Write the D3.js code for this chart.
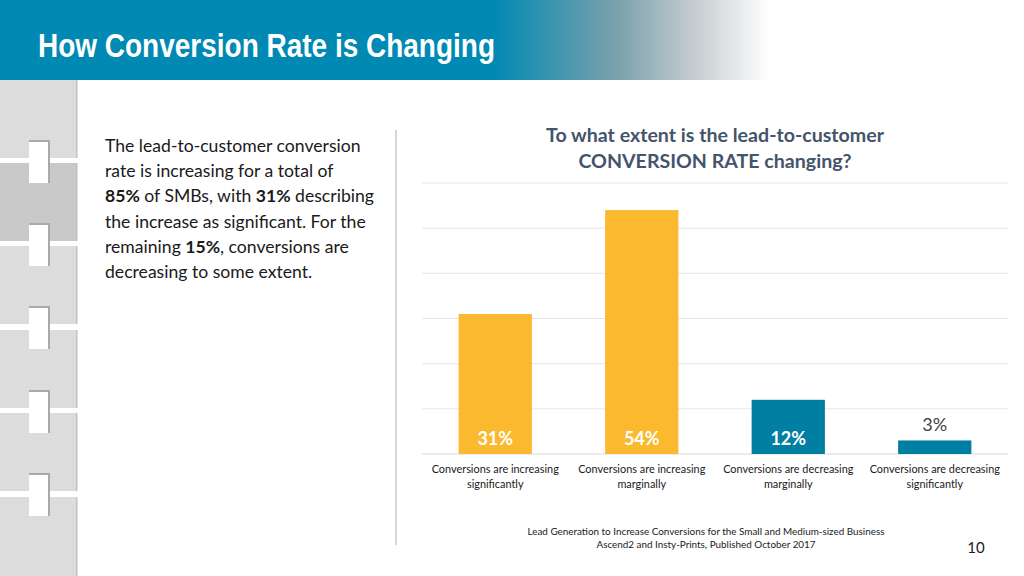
<!DOCTYPE html>
<html><head><meta charset="utf-8">
<script src="https://cdn.jsdelivr.net/npm/d3@7"></script>
<style>body{margin:0;background:#fff}svg{display:block}</style>
</head><body>
<script>
const categories = [
  ["Conversions are increasing","significantly"],
  ["Conversions are increasing","marginally"],
  ["Conversions are decreasing","marginally"],
  ["Conversions are decreasing","significantly"]
];
const values = [31, 54, 12, 3];
const valueLabels = ["31%","54%","12%","3%"];
const groups = ["inc","inc","dec","dec"];
const yTicks = [0,10,20,30,40,50,60];

const W=1024,H=576;
const svg=d3.select("body").append("svg").attr("width",W).attr("height",H);
const defs=svg.append("defs");
const grad=defs.append("linearGradient").attr("id","hdr").attr("x1","0").attr("x2","1");
grad.append("stop").attr("offset","0").attr("stop-color","#0089b3");
grad.append("stop").attr("offset","0.64").attr("stop-color","#0089b3");
grad.append("stop").attr("offset","0.80").attr("stop-color","#7aa0ab");
grad.append("stop").attr("offset","0.9").attr("stop-color","#c4cccf");
grad.append("stop").attr("offset","1").attr("stop-color","#ffffff");
svg.append("rect").attr("x",0).attr("y",0).attr("width",770).attr("height",80).attr("fill","url(#hdr)");
svg.append("text").attr("x",38).attr("y",57).attr("fill","#fff")
  .attr("font-family","'Liberation Sans Narrow','Arial Narrow','Liberation Sans',Arial,sans-serif")
  .attr("font-weight","bold").attr("font-size",33)
  .attr("textLength",457).attr("lengthAdjust","spacingAndGlyphs")
  .text("How Conversion Rate is Changing");

// left decorative strip
const strip=svg.append("g");
const sqTops=[80,163,246,330,413,497];
sqTops.forEach((t,i)=>{
  strip.append("rect").attr("x",0).attr("y",t).attr("width",77).attr("height",(i<5?78:80))
    .attr("fill",i===1?"#c9c9c9":"#dcdcdc");
  strip.append("rect").attr("x",76).attr("y",t).attr("width",1.5).attr("height",(i<5?78:80)).attr("fill","#c2c2c2");
});
sqTops.slice(0,5).forEach(t=>{
  const ny=t+60;
  strip.append("rect").attr("x",29).attr("y",ny).attr("width",21).attr("height",43).attr("fill","#a9a9a9");
  strip.append("rect").attr("x",29).attr("y",ny+2).attr("width",19).attr("height",41).attr("fill","#ffffff");
});

// body text
const body=[
  [["The lead-to-customer conversion",false]],
  [["rate is increasing for a total of",false]],
  [["85%",true],[" of SMBs, with ",false],["31%",true],[" describing",false]],
  [["the increase as significant. For the",false]],
  [["remaining ",false],["15%",true],[", conversions are",false]],
  [["decreasing to some extent.",false]]
];
body.forEach((ln,i)=>{
  const t=svg.append("text").attr("x",105).attr("y",152+i*25.2)
    .attr("font-family","Lato,'Open Sans',sans-serif").attr("font-size",17.6).attr("fill","#1a1a1a");
  ln.forEach(([s,b])=>t.append("tspan").attr("font-weight",b?"bold":"normal").text(s));
});
svg.append("line").attr("x1",396).attr("x2",396).attr("y1",130).attr("y2",545)
  .attr("stroke","#d6d6d6").attr("stroke-width",2);

// chart
const x=d3.scaleBand().domain(d3.range(values.length)).range([422,1008]).paddingInner(0.5).paddingOuter(0.25);
const y=d3.scaleLinear().domain([0,60]).range([454,183]);
svg.append("g").selectAll("line").data(yTicks).join("line")
  .attr("x1",422).attr("x2",1008).attr("y1",d=>y(d)).attr("y2",d=>y(d))
  .attr("stroke",d=>d===0?"#d9d9d9":"#e6e6e6").attr("stroke-width",1);
const color={inc:"#fbb92f",dec:"#007fa3"};
svg.append("g").selectAll("rect").data(values).join("rect")
  .attr("x",(d,i)=>x(i)).attr("width",x.bandwidth())
  .attr("y",d=>y(d)).attr("height",d=>y(0)-y(d))
  .attr("fill",(d,i)=>color[groups[i]]);
svg.append("g").selectAll("text").data(values).join("text")
  .attr("x",(d,i)=>x(i)+x.bandwidth()/2)
  .attr("y",(d,i)=>d>=10?445:y(d)-9)
  .attr("text-anchor","middle").attr("font-family","Lato,'Open Sans',sans-serif")
  .attr("font-size",18).attr("font-weight",d=>d>=10?"bold":"normal")
  .attr("fill",d=>d>=10?"#ffffff":"#404040")
  .text((d,i)=>valueLabels[i]);
const cl=svg.append("g").selectAll("text").data(categories).join("text")
  .attr("text-anchor","middle").attr("font-family","Lato,'Open Sans',sans-serif")
  .attr("font-size",10.9).attr("fill","#1a1a1a");
cl.each(function(d,i){
  const t=d3.select(this);
  d.forEach((s,j)=>t.append("tspan").attr("x",x(i)+x.bandwidth()/2).attr("y",473+j*15).text(s));
});

// chart title
["To what extent is the lead-to-customer","CONVERSION RATE changing?"].forEach((s,i)=>{
  svg.append("text").attr("x",715).attr("y",142+i*26).attr("text-anchor","middle")
    .attr("font-family","Lato,'Open Sans',sans-serif").attr("font-weight","bold")
    .attr("font-size",19.6).attr("fill","#44546a").text(s);
});

// footnote
["Lead Generation to Increase Conversions for the Small and Medium-sized Business","Ascend2 and Insty-Prints, Published October 2017"].forEach((s,i)=>{
  svg.append("text").attr("x",706).attr("y",535+i*13).attr("text-anchor","middle")
    .attr("font-family","Lato,'Open Sans',sans-serif").attr("font-size",9.9).attr("fill","#1a1a1a").text(s);
});
svg.append("text").attr("x",976).attr("y",553).attr("text-anchor","middle")
  .attr("font-family","Lato,'Open Sans',sans-serif").attr("font-size",15).attr("fill","#1a1a1a").text("10");
</script>
</body></html>
